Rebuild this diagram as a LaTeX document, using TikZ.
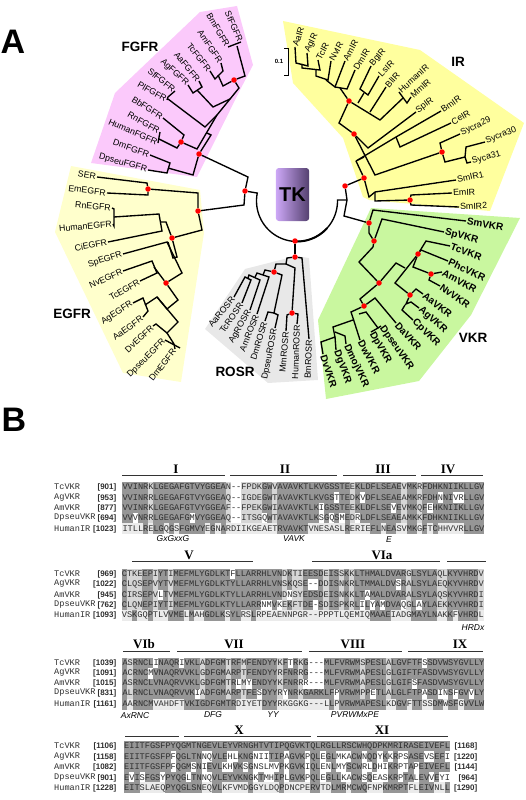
\documentclass[tikz,border=0pt]{standalone}
\usepackage{fontspec}
\setmainfont{Liberation Sans}
\setmonofont{Liberation Mono}
\newfontfamily\romfont{Liberation Serif}
\usetikzlibrary{backgrounds}
\definecolor{fgfrpink}{HTML}{FBC9FB}
\definecolor{irgold}{HTML}{FFFF9E}
\definecolor{egfrcream}{HTML}{FFFFCC}
\definecolor{rosrgrey}{HTML}{E8E8E8}
\definecolor{vkrgreen}{HTML}{C9F79F}
\definecolor{alndark}{HTML}{969696}
\definecolor{alnlight}{HTML}{D6D6D6}
\definecolor{alnink}{HTML}{2E2E2E}
\definecolor{tkleft}{HTML}{CDA8F7}
\definecolor{tkmid}{HTML}{AD86E6}
\definecolor{tkright}{HTML}{54406F}
\newcommand{\cw}{5.17}
\tikzset{
  br/.style={line width=1.35pt, color=black},
  rdot/.style={circle, fill=red, inner sep=0pt, minimum size=5.5pt},
  lbe/.style={font=\fontsize{8.8}{9}\selectfont, anchor=east, inner sep=1pt},
  lbw/.style={font=\fontsize{8.8}{9}\selectfont, anchor=west, inner sep=1pt},
  lbv/.style={font=\fontsize{10}{10}\selectfont\bfseries, anchor=west, inner sep=1pt},
  fam/.style={font=\fontsize{13.5}{14}\selectfont\bfseries},
  pan/.style={font=\fontsize{34}{34}\selectfont\bfseries},
  tkbox/.style={rounded corners=3pt, minimum width=29pt, minimum height=53pt, left color=tkleft, middle color=tkmid, right color=tkright, font=\fontsize{20}{20}\selectfont\bfseries},
  alnname/.style={font=\ttfamily\fontsize{8.6}{9}\selectfont, color=alnink, anchor=west, inner sep=0pt},
  alnnum/.style={font=\fontsize{8}{8}\selectfont\bfseries, color=alnink, anchor=east, inner sep=0pt},
  alnseq/.style={font=\ttfamily\fontsize{8.617}{9}\selectfont, color=alnink, anchor=west, inner sep=0pt},
  rom/.style={font=\romfont\fontsize{13}{13}\selectfont\bfseries},
  motif/.style={font=\fontsize{8.5}{9}\selectfont\itshape},
  rl/.style={line width=0.6pt, color=black!80},
}
% x0, y0, columns, light columns, white cells, dark spans of the last row
\newcommand{\alnshade}[6]{
  \fill[alndark] (#1,#2-5.2) rectangle ({#1+#3*\cw},#2+36.4);
  \fill[black!8] (#1,#2+36.4) rectangle ({#1+#3*\cw},#2+46.8);
  \foreach \c in {#4} \fill[alnlight] ({#1+\c*\cw},#2-5.2) rectangle ({#1+(\c+1)*\cw},#2+36.4);
  \foreach \r/\c in {#5} \fill[white] ({#1+\c*\cw},{#2-5.2+\r*10.4}) rectangle ({#1+(\c+1)*\cw},{#2+5.2+\r*10.4});
  \foreach \a/\b in {#6} \fill[alndark] ({#1+\a*\cw},#2+36.4) rectangle ({#1+(\b+1)*\cw},#2+46.8);
}
\newcommand{\alnrow}[5]{
  \node[alnname] (nm#3#2) at (54,#2) {#3};
  \node[alnnum] (nu#3#2) at (116.5,#2) {[#4]};
  \node[alnseq] (sq#3#2) at (#1,#2) {#5};
}
\begin{document}
\begin{tikzpicture}[x=1pt,y=-1pt]
  \useasboundingbox (0,0) rectangle (526,800);
  % panel letters and families
  \node[pan] (pa) at (13,42) {A};
  \node[pan] (pb) at (14,420) {B};
  \node[fam] (ffgfr) at (140,47) {FGFR};
  \node[fam] (fir) at (458,62) {IR};
  \node[fam] (fegfr) at (72,314) {EGFR};
  \node[fam] (frosr) at (235,372) {ROSR};
  \node[fam] (fvkr) at (473,338) {VKR};
  \node[tkbox] (tk) at (292.5,194.5) {TK};
  \node[font=\fontsize{6}{6}\selectfont\bfseries, inner sep=0pt] (sc) at (279,61) {0.1};
  % leaves
  \foreach \n/\x/\y/\r/\t in {sff/241/42/-66/SfFGFR, bmf/228/47/-60/BmFGFR, amf/221/63/-56/AmFGFR, tff/210/71/-51/TcFGFR, aaf/199/81/-50/AaFGFR, agf/188/85/-43/AgFGFR, sfg/175/91/-39/SfFGFR, plf/167/100/-30/PlFGFR, bbf/163/118/-33/BbFGFR, rnf/160/132/-30/RnFGFR, huf/158/143/-24/HumanFGFR, dmf/150/155/-20/DmFGFR, dpf/148/170/-15/DpseuFGFR, ser/97/177/-10/SER, eme/107/193/-7/EmEGFR, rne/112/208/-5/RnEGFR, hue/113/224/5/HumanEGFR, cle/108/242/11/CiEGFR, spe/123/254/18/SpEGFR, nve/123/271/24/NvEGFR, tce/140/281/30/TcEGFR, age/133/303/32/AgEGFR, aae/143/317/36/AaEGFR, dvl/153/326/43/DvEGFR, dpe/165/340/45/DpseuEGFR, dme/175/349/52/DmEGFR, aar/234/297/50/AaROSR, tcr/242/303/55/TcROSR, agr/250/310/60/AgROSR, amr/257/314/68/AmROSR, dmr/265/321/73/DmROSR, dpr/275/328/79/DpseuROSR, mmr/286/331/85/MmROSR, hur/297/324/88/HumanROSR, bmr/309/339/88/BmROSR}
    \node[lbe, rotate=\r] (\n) at (\x,\y) {\t};
  \foreach \n/\x/\y/\r/\t in {aai/295/47/72/AaIR, agi/307/53/65/AgIR, tci/318/60/62/TcIR, nvi/331/61/61/NvIR, ami/345/61/62/AmIR, dmi/355/70/58/DmIR, bgi/371/66/50/BgIR, lsi/379/76/45/LsIR, bli/386/87/48/BlIR, hui/399/92/42/HumanIR, mmi/411/97/42/MmIR, spi/416/112/37/SpIR, bmi/441/111/35/BmIR, cei/451/123/30/CeIR, s29/460/134/25/Sycra29, s30/485/142/22/Sycra30, s31/471/162/15/Syca31, sm1/456/180/12/SmIR1, emi/452/193/3/EmIR, sm2/459/207/3/SmIR2}
    \node[lbw, rotate=\r] (\n) at (\x,\y) {\t};
  \foreach \n/\x/\y/\r/\t in {smv/466/221/-10/SmVKR, spv/444/232/-15/SpVKR, tcv/450/246/-20/TcVKR, phv/448/261/-25/PhcVKR, amv/442/272/-28/AmVKR, nvv/440/286/-35/NvVKR, aav/423/294/-38/AaVKR, agv/419/308/-42/AgVKR, cpv/413/320/-45/CpVKR, dav/396/323/-48/DaVKR, dsv/381/326/-55/DpseuVKR, dpv/371/332/-60/DpVKR, dwv/360/340/-62/DwVKR, dov/346/344/-65/DmojVKR, dgv/336/350/-70/DgVKR, dvv/323/354/-72/DvVKR}
    \node[lbv, rotate=\r] (\n) at (\x,\y) {\t};
  % red dots
  \foreach \n/\x/\y in {dfa/234/80, dhf/181/142, dfr/199/154, dtk/245/191, dse/148/189, deg/198/211, dcl/172/238, dnv/166/283, dia/349/101, dsp/354/134, dsy/442/152, dtr/364/178, dup/345/186, dem/410/200, dva/369/223, dvb/374/241, dvc/379/283, dvd/418/254, dve/431/274, dvf/410/295, dvg/364/306, dbo/295/241, dro/295/257, dhu/292/313, dor/274/272}
    \node[rdot] (\n) at (\x,\y) {};
  \begin{scope}[on background layer]
    % family patches
    \fill[rosrgrey] (245,269) -- (296,256) -- (309,258) -- (318,380) -- (268,383) -- (205,329) -- cycle;
    \fill[irgold] (283,21) -- (420,50) -- (524,123) -- (490,211) -- (369,200) -- (363,197) -- (343,138) -- (293,83) -- cycle;
    \fill[egfrcream] (71,166) -- (200,190) -- (204,233) -- (181,382) -- (123,373) -- (55,232) -- cycle;
    \fill[fgfrpink] (200,12) -- (237,6) -- (253,65) -- (240,90) -- (197,177) -- (91,163) -- (115,93) -- cycle;
    \fill[vkrgreen] (371,208) -- (520,218) -- (471,315) -- (419,381) -- (326,399) -- (318,320) -- cycle;
    % FGFR
    \draw[br] (bmf.east) -- (sff.east);
    \draw[br] (237,46) -- (245,76) -- (dfa);
    \draw[br] (amf.east) -- (223,71) -- (215,79) -- (tff.east);
    \draw[br] (218,75) -- (223,86) -- (dfa);
    \draw[br] (dfa) -- (239,88) -- (217,115) -- (197,149) -- (dhf);
    \draw[br] (aaf.east) -- (202,87) -- (193,93) -- (agf.east);
    \draw[br] (197,90) -- (213,107) -- (230,99);
    \draw[br] (sfg.east) -- (168,97) -- (plf.east);
    \draw[br] (168,99) -- (205,127) -- (217,115);
    \draw[br] (bbf.east) -- (184,135) -- (dhf);
    \draw[br] (rnf.east) -- (huf.east);
    \draw[br] (159,139) -- (177,148) -- (dhf);
    \draw[br] (207,133) -- (211,135) -- (dfr);
    \draw[br] (dmf.east) -- (170,163) -- (167,173) -- (dpf.east);
    \draw[br] (168,168) -- (193,175) -- (dfr);
    \draw[br] (dfr) -- (248,177) -- (dtk);
    % EGFR
    \draw[br] (ser.east) -- (147,183) -- (dse);
    \draw[br] (eme.east) -- (148,195) -- (dse);
    \draw[br] (dse) -- (198,193) -- (deg);
    \draw[br] (deg) -- (244,205) -- (dtk);
    \draw[br] (deg) -- (202,230) -- (dcl);
    \draw[br] (rne.east) -- (114,209) -- (114,226) -- (hue.east);
    \draw[br] (114,217) -- (159,214) -- (162,231) -- (cle.east);
    \draw[br] (160,222) -- (166,222) -- (dcl);
    \draw[br] (dcl) -- (177,257) -- (173,258) -- (168,242);
    \draw[br] (spe.east) -- (167,242) -- (182,273) -- (dnv);
    \draw[br] (nve.east) -- (152,261) -- (157,273) -- (tce.east);
    \draw[br] (154,267) -- (dnv);
    \draw[br] (dnv) -- (178,300) -- (167,309) -- (157,297);
    \draw[br] (age.east) -- (143,298) -- (148,311) -- (aae.east);
    \draw[br] (145,305) -- (157,297) -- (178,322) -- (167,333) -- (156,324) -- (dvl.east);
    \draw[br] (167,333) -- (174,344);
    \draw[br] (dpe.east) -- (180,348);
    \draw[br] (dme.east) -- (174,344);
    % IR
    \draw[br] (aai.west) -- (296,63) -- (308,66) -- (agi.west);
    \draw[br] (302,64) -- (302,68) -- (320,70) -- (tci.west);
    \draw[br] (316,70) -- (316,76) -- (328,80) -- (nvi.west);
    \draw[br] (326,80) -- (335,87) -- (ami.west);
    \draw[br] (335,87) -- (347,89) -- (dmi.west);
    \draw[br] (340,88) -- (dia);
    \draw[br] (bgi.west) -- (360,89) -- (368,95) -- (lsi.west);
    \draw[br] (364,93) -- (358,103);
    \draw[br] (dia) -- (380,120) -- (403,98);
    \draw[br] (bli.west) -- (370,112);
    \draw[br] (hui.west) -- (407,103) -- (mmi.west);
    \draw[br] (dia) -- (339,123) -- (dsp);
    \draw[br] (dsp) -- (368,148) -- (spi.west);
    \draw[br] (dsp) -- (375,175) -- (dsy);
    \draw[br] (dsy) -- (440,143) -- (s29.west);
    \draw[br] (dsy) -- (445,162) -- (465,157) -- (466,147) -- (s30.west);
    \draw[br] (465,157) -- (467,163) -- (s31.west);
    \draw[br] (364,157) -- (356,161) -- (396,137) -- (bmi.west);
    \draw[br] (396,137) -- (400,147) -- (cei.west);
    \draw[br] (356,161) -- (dtr);
    \draw[br] (dtr) -- (dup);
    \draw[br] (dtr) -- (369,197) -- (375,192) -- (sm1.west);
    \draw[br] (375,192) -- (375,201) -- (dem);
    \draw[br] (dem) -- (411,195) -- (emi.west);
    \draw[br] (dem) -- (411,205) -- (sm2.west);
    % TK ring
    \draw[br] (dtk) -- (257,193) -- plot[domain=191.3:-1.4, samples=50] ({297+40.5*cos(\x)},{201+40.5*sin(\x)}) -- (347,200);
    \draw[br, line width=2pt] plot[domain=90:42, samples=20] ({297+40.5*cos(\x)},{201+40.5*sin(\x)});
    \draw[br] (dup) -- (347,200) -- (344,216) -- (dva);
    % VKR
    \draw[br] (dva) -- (373,210) -- (smv.west);
    \draw[br] (dva) -- (369,233) -- (dvb);
    \draw[br] (dvb) -- (382,219) -- (spv.west);
    \draw[br] (dvb) -- (373,247) -- (359,262) -- (dvc);
    \draw[br] (dvc) -- (396,263) -- (405,268);
    \draw[br] (dvd) -- (395,283) -- (dvf);
    \draw[br] (dvd) -- (426,241) -- (tcv.west);
    \draw[br] (dvd) -- (421,250) -- (phv.west);
    \draw[br] (dvd) -- (413,267) -- (dve);
    \draw[br] (dve) -- (amv.west);
    \draw[br] (dve) -- (429,280) -- (nvv.west);
    \draw[br] (dvf) -- (416,289) -- (aav.west);
    \draw[br] (dvf) -- (406,304) -- (411,302) -- (agv.west);
    \draw[br] (405,305) -- (402,310) -- (cpv.west);
    \draw[br] (dvc) -- (360,299) -- (dvg);
    \draw[br] (dvg) -- (375,298) -- (dav.west);
    \draw[br] (dvg) -- (351,312) -- (353,318) -- (dwv.west);
    \draw[br] (359,314) -- (366,312) -- (378,328) -- (dsv.west);
    \draw[br] (378,328) -- (dpv.west);
    \draw[br] (353,320) -- (333,327) -- (335,337) -- (321,342) -- (dvv.west);
    \draw[br] (335,337) -- (dgv.west);
    \draw[br] (335,332) -- (345,336) -- (dov.west);
    % ROSR
    \draw[br] (dbo) -- (dro);
    \draw[br] (dro) -- (287,258) -- (286,264) -- (295,268) -- (dhu);
    \draw[br] (dhu) -- (287,315) -- (mmr.east);
    \draw[br] (dhu) -- (298,314) -- (hur.east);
    \draw[br] (dro) -- (302,258) -- (bmr.east);
    \draw[br] (286,264) -- (276,264) -- (dor);
    \draw[br] (dor) -- (282,275) -- (274,313) -- (278,315) -- (dpr.east);
    \draw[br] (274,313) -- (268,312) -- (dmr.east);
    \draw[br] (dor) -- (265,270) -- (263,275);
    \draw[br] (amr.east) -- (269,277) -- (257,273) -- (255,277);
    \draw[br] (agr.east) -- (260,280) -- (249,275) -- (248,278);
    \draw[br] (tcr.east) -- (251,280) -- (245,277) -- (aar.east);
    % scale
    \draw[line width=0.9pt] (284,48) -- (288,48) -- (288,75) -- (284,75);
    % alignment shading
    \alnshade{122.3}{487}{70}{5,20,23,24,25,26,29,44,54,57}{0/21,0/22,1/21,1/22,2/21,2/22,3/21,3/22,3/2,3/13,3/27,2/38,3/38,3/40,1/41,3/42,1/46,3/45,2/52,2/59,1/61,1/64,1/65}{4/4,6/7,9/9,11/15,17/17,19/19,30/35,43/43,48/49,51/52,55/56,58/58,60/60,66/69}
    \alnshade{121.7}{574}{70}{1,2,3,6,9,31,33,34,39,42,44,55,61,62,69}{0/21,2/7,3/27,3/28,3/30,2/32,1/36,1/37,3/37,3/46,2/47,3/48,3/50,1/53,3/54,3/57}{2/2,5/5,9/11,13/13,16/19,21/22,25/25,48/51,56/60,63/63,65/68}
    \alnshade{122.3}{663}{70}{1,15,20,23,30,34,46,51}{1/5,0/6,0/11,3/14,2/22,2/24,3/26,3/31,0/32,2/35,0/36,0/37,0/38,1/36,1/37,1/38,2/36,2/37,2/38,3/41,3/48,2/56,3/58,0/58,3/61,3/62,3/64,3/67}{0/0,2/5,12/21,27/29,40/40,42/50,53/54,56/57,60/61,63/64,66/69}
    \alnshade{124}{746}{63}{}{1/9,1/15,1/16,1/20,1/21,1/25,1/26,1/27,1/31,1/35,1/38,1/41,1/42,1/43,1/46,1/49,1/51,1/53,1/54,1/58,1/59,1/62,2/9,2/13,2/15,2/19,2/20,2/23,2/25,2/26,2/27,2/28,2/29,2/31,2/35,2/38,2/39,2/41,2/42,2/46,2/47,2/49,2/50,2/53,2/54,2/56,3/1,3/3,3/7,3/12,3/15,3/16,3/25,3/27,3/28,3/31,3/35,3/38,3/42,3/43,3/46,3/48,3/49,3/50,3/53,3/56,3/59,3/61,3/62}{0/2,8/14,17/18,24/24,30/30,36/37,40/42,44/46,50/54,57/59,62/62}
  \end{scope}
  % block I-IV
  \alnrow{122.3}{487}{TcVKR}{901}{VVINRKLGEGAFGTVYGGEAN--FPDKGWVAVAVKTLKVGSSTEEKLDFLSEAEVMKRFDHKNIIKLLGV}
  \alnrow{122.3}{498}{AgVKR}{953}{VVINRRLGEGAFGTVYGGEAQ--IGDEGWTAVAVKTLKVGSTTEDKVDFLSEAEAMKRFDHNNIVRLLGV}
  \alnrow{122.3}{508}{AmVKR}{877}{VVINRKLGEGAFGTVYGGEAF--FPEKGWIAVAVKTLKIGSSTEEKLDFLSEVEVMKQFEHKNIIKLLGV}
  \alnrow{122.3}{518}{DpseuVKR}{694}{VVVNRRLGEGAFGMVYGGEAQ--ITSGQWTAVAVKTLKSGQSMEDRLDFLSEAEAMKKFDHKNIIKLLGV}
  \alnrow{122.3}{529}{HumanIR}{1023}{ITLLRELGQGSFGMVYEGNARDIIKGEAETRVAVKTVNESASLRERIEFLNEASVMKGFTCHHVVRLLGV}
  % block V-VIa
  \alnrow{121.7}{574}{TcVKR}{969}{CTKEEPIYTIMEFMLYGDLKTFLLARRHLVNDKTIEESDEISSKKLTHMALDVARGLSYLAQLKYVHRDV}
  \alnrow{121.7}{584}{AgVKR}{1022}{CLQSEPVYTVMEFMLYGDLKTYLLARRHLVNSKQSE--DDISNKRLTMMALDVSRALSYLAEQKYVHRDV}
  \alnrow{121.7}{595}{AmVKR}{945}{CIRSEPVLTVMEFMLYGDLKTYLLARRHLVNDNSYEDSDEISNKKLTAMALDVARALSYLAQSKYVHRDI}
  \alnrow{121.7}{605}{DpseuVKR}{762}{CLQNEPIYTIMEFMLYGDLKTYLLARRNMVKEKFTDE-SDISPKRLILYAMDVAQGLAYLAEKKYVHRDI}
  \alnrow{121.7}{615}{HumanIR}{1093}{VSKGQPTLVVMELMAHGDLKSYLRSLRPEAENNPGR--PPPTLQEMIQMAAEIADGMAYLNAKKFVHRDL}
  % block VIb-IX
  \alnrow{122.3}{663}{TcVKR}{1039}{ASRNCLINAQRIVKLADFGMTRFMFENDYYKFTRKG---MLFVRWMSPESLALGVFTFSSDVWSYGVLLY}
  \alnrow{122.3}{673}{AgVKR}{1091}{ACRNCMVNAQRVVKLGDFGMARPTFENDYYRFNRRG---MLFVRWMAPESLGLGIFTFASDVWSYGVLLY}
  \alnrow{122.3}{683}{AmVKR}{1015}{ASRNCLVNAQRVVKLGDFGMTRLMYENDYYKFNRRR---MLFVRWMAPESLGLGIFSFASDVWSYGVLLY}
  \alnrow{122.3}{693}{DpseuVKR}{831}{ALRNCLVNAQRVVKIADFGMARPTFESDYYRYNRKGARKLFPVRWMPPETLALGLFTPASDINSFGVVLY}
  \alnrow{122.3}{704}{HumanIR}{1161}{AARNCMVAHDFTVKIGDFGMTRDIYETDYYRKGGKG---LLPVRWMAPESLKDGVFTTSSDMWSFGVVLW}
  % block X-XI
  \alnrow{124}{746}{TcVKR}{1106}{EIITFGSFPYQGMTNGEVLEYVRNGHTVTIPQGVKTQLRGLLRSCWHQDPKMRIRASEIVEFL}
  \alnrow{124}{757}{AgVKR}{1158}{EIITFGSFPFQGLTNNQVLEHLKNGNIITIPAGVKPQLEGLMKACWNQDYKKRPSASEVSEFI}
  \alnrow{124}{767}{AmVKR}{1082}{EIITFGSFPFQGMSNIEVLKHVKSGNSLMVPKGVKIQLENLMYSCWRLDHIKRPTAPEIVEFL}
  \alnrow{124}{778}{DpseuVKR}{901}{EVISFGSYPYQGLTNNQVLEYVKNGKTMHIPLGVKPQLEGLLKACWSQEASKRPTALEVVEYI}
  \alnrow{124}{788}{HumanIR}{1228}{EITSLAEQPYQGLSNEQVLKFVMDGGYLDQPDNCPERVTDLMRMCWQFNPKMRPTFLEIVNLL}
  \foreach \y/\t in {746/1168,757/1220,767/1144,778/964,788/1290}
    \node[alnnum] (en\t) at (477.5,\y) {[\t]};
  % motif titles and rules
  \foreach \n/\x/\y/\t in {ri/176/469/I, rii/285/469/II, riii/383/469/III, riv/448/469/IV, rv/189/555/V, rvia/382/555/VIa, rvib/144/644/VIb, rvii/234/644/VII, rviii/353/644/VIII, rix/460/644/IX, rx/239/730/X, rxi/382/730/XI}
    \node[rom] (\n) at (\x,\y) {\t};
  \foreach \a/\b/\y in {122/225/475, 230/337/475, 343/416/475, 421/483/475, 132/253/561, 312/440/561, 447/486/561, 123/170/651, 177/302/651, 309/402/651, 408/483/651, 125/179/736, 184/311/736, 317/448/736}
    \draw[rl] (\a,\y) -- (\b,\y);
  \foreach \n/\x/\y/\t in {m1/173/539/GxGxxG, m2/294/539/VAVK, m3/389/540/E, m4/473/628/HRDx, m5/135/716/AxRNC, m6/213/715/DFG, m7/273/715/YY, m8/355/715/PVRWMxPE}
    \node[motif] (\n) at (\x,\y) {\t};
\end{tikzpicture}
\end{document}
